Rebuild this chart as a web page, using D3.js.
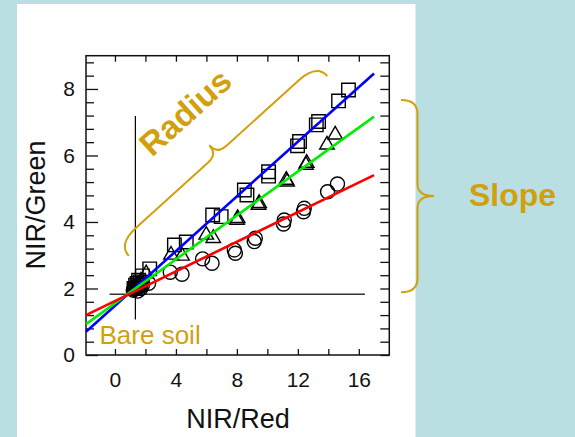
<!DOCTYPE html>
<html>
<head>
<meta charset="utf-8">
<script src="https://cdn.jsdelivr.net/npm/d3@7"></script>
<style>
  body { margin: 0; }
  svg { display: block; font-family: "Liberation Sans", Arial, Helvetica, sans-serif; }
</style>
</head>
<body>
<svg id="chart" width="575" height="437"></svg>
<script>
// NIR/Red (x) against NIR/Green (y) for three canopy groups
const squarePts = [
  [1.25, 2.0], [1.35, 2.1], [1.45, 2.15], [1.55, 2.25], [1.65, 2.2], [1.8, 2.38], [2.28, 2.59],
  [3.90, 3.31], [4.68, 3.40], [6.41, 4.21], [6.97, 4.16], [8.49, 4.96],
  [8.66, 4.81], [10.08, 5.51], [10.08, 5.38], [11.98, 6.29], [12.11, 6.42],
  [13.21, 6.92], [13.36, 7.02], [14.67, 7.64], [15.32, 7.97]
];
const trianglePts = [
  [1.3, 2.0], [1.4, 2.08], [1.5, 2.12], [1.6, 2.05], [1.7, 2.22], [2.05, 2.45],
  [3.68, 3.01], [4.40, 2.98], [5.99, 3.61], [6.45, 3.51], [8.01, 4.06],
  [8.05, 4.11], [9.42, 4.51], [9.46, 4.56], [11.29, 5.21], [11.24, 5.26],
  [12.53, 5.71], [12.58, 5.77], [13.91, 6.32], [14.45, 6.62]
];
const circlePts = [
  [1.2, 1.95], [1.3, 2.05], [1.4, 2.0], [1.5, 1.92], [1.6, 2.05], [1.7, 2.0], [1.8, 2.1], [2.21, 2.16],
  [3.63, 2.49], [4.40, 2.43], [5.75, 2.89], [6.37, 2.76], [7.83, 3.16],
  [7.90, 3.06], [9.21, 3.51], [9.14, 3.41], [11.11, 4.06], [11.06, 3.94],
  [12.42, 4.41], [12.37, 4.31], [13.95, 4.91], [14.60, 5.14]
];

// Fitted lines: squares, triangles, circles
const fitSlopes = [0.411, 0.330, 0.2228];
const fitIntercepts = [1.48, 1.557, 1.623];
const fitXRange = [-1.9, 17.0];

// Bare-soil crosshair
const soilPoint = [1.34, 1.825];
const soilVSpan = [1.07, 7.19];
const soilHSpan = [-0.35, 16.4];

// Axes
const xDomain = [-1.9, 18];
const yDomain = [0, 9];
const xTickValues = [0, 2, 4, 6, 8, 10, 12, 14, 16];
const xLabelValues = [0, 4, 8, 12, 16];
const yTickValues = d3.range(0, 23).map(i => +(i * 0.4).toFixed(1));
const yLabelValues = [0, 2, 4, 6, 8];

const xTitle = "NIR/Red";
const yTitle = "NIR/Green";

// Styling
const GOLD = "#D2A00C";
const BG = "#B9DFE2";
const fitColors = ["#0000FF", "#00EE00", "#FF0000"];

const svg = d3.select("#chart");
svg.append("rect").attr("width", 575).attr("height", 437).attr("fill", BG);
svg.append("rect").attr("x", 17).attr("y", 4).attr("width", 398.5).attr("height", 433).attr("fill", "#fff");

const plot = { left: 86, right: 389.3, top: 55.7, bottom: 355 };
const x = d3.scaleLinear().domain(xDomain).range([plot.left, plot.right]);
const y = d3.scaleLinear().domain(yDomain).range([plot.bottom, plot.top]);

const isMajor = v => Math.abs(v / 2 - Math.round(v / 2)) < 1e-6;

// Bottom axis: inward ticks every 2, labels every 4
const gx = svg.append("g").attr("transform", `translate(0,${plot.bottom})`)
  .call(d3.axisBottom(x).tickValues(xTickValues).tickSizeInner(-6).tickSizeOuter(0)
    .tickPadding(17).tickFormat(d => xLabelValues.includes(d) ? d : ""));
// Top axis: ticks only
const gxt = svg.append("g").attr("transform", `translate(0,${plot.top})`)
  .call(d3.axisTop(x).tickValues(xTickValues).tickSizeInner(-6).tickSizeOuter(0).tickFormat(""));
// Left axis: ticks every 0.4, longer at labelled values
const gy = svg.append("g").attr("transform", `translate(${plot.left},0)`)
  .call(d3.axisLeft(y).tickValues(yTickValues).tickSizeInner(-8).tickSizeOuter(0)
    .tickPadding(11).tickFormat(d => yLabelValues.includes(d) ? d : ""));
gy.selectAll(".tick line").attr("x2", d => isMajor(d) ? 12 : 8);
// Right axis: ticks only
const gyr = svg.append("g").attr("transform", `translate(${plot.right},0)`)
  .call(d3.axisRight(y).tickValues(yTickValues).tickSizeInner(-9).tickSizeOuter(0).tickFormat(""));

[gx, gxt, gy, gyr].forEach(g => {
  g.select(".domain").remove();
  g.selectAll(".tick line").attr("stroke", "#111").attr("stroke-width", 1.3);
  g.selectAll("text").attr("font-size", 21).attr("fill", "#111")
    .attr("font-family", "'Liberation Sans', Arial, sans-serif");
});

// Frame
svg.append("rect")
  .attr("x", plot.left).attr("y", plot.top)
  .attr("width", plot.right - plot.left).attr("height", plot.bottom - plot.top)
  .attr("fill", "none").attr("stroke", "#111").attr("stroke-width", 1.5);

// Axis titles
svg.append("text").attr("x", 238).attr("y", 428).attr("text-anchor", "middle")
  .attr("font-size", 27).attr("fill", "#111").text(xTitle);
svg.append("text").attr("transform", "translate(45,205) rotate(-90)")
  .attr("text-anchor", "middle").attr("font-size", 27).attr("fill", "#111").text(yTitle);

// Bare-soil crosshair
svg.append("line")
  .attr("x1", x(soilPoint[0])).attr("x2", x(soilPoint[0]))
  .attr("y1", y(soilVSpan[0])).attr("y2", y(soilVSpan[1]))
  .attr("stroke", "#000").attr("stroke-width", 1.2);
svg.append("line")
  .attr("x1", x(soilHSpan[0])).attr("x2", x(soilHSpan[1]))
  .attr("y1", y(soilPoint[1])).attr("y2", y(soilPoint[1]))
  .attr("stroke", "#333").attr("stroke-width", 1.4);

// Markers
const groups = [
  { pts: squarePts, type: d3.symbolSquare, size: 182 },
  { pts: trianglePts, type: d3.symbolTriangle, size: 92 },
  { pts: circlePts, type: d3.symbolCircle, size: 155 }
];
groups.forEach(g => {
  svg.append("g").selectAll("path").data(g.pts).join("path")
    .attr("transform", d => `translate(${x(d[0])},${y(d[1])})`)
    .attr("d", d3.symbol().type(g.type).size(g.size))
    .attr("fill", "none").attr("stroke", "#000").attr("stroke-width", 1.4);
});

// Fitted lines
const lineGen = d3.line().x(d => x(d[0])).y(d => y(d[1]));
fitSlopes.forEach((m, i) => {
  const pts = fitXRange.map(v => [v, fitIntercepts[i] + m * v]);
  svg.append("path").attr("d", lineGen(pts))
    .attr("fill", "none").attr("stroke", fitColors[i]).attr("stroke-width", 2.6);
});

// Curly brace from p1 to p2, bulging to the left of the travel direction
function bracePath(p1, p2, d1, d2, r, r2) {
  const dx = p2[0] - p1[0], dy = p2[1] - p1[1], L = Math.hypot(dx, dy);
  const u = [dx / L, dy / L], n = [u[1], -u[0]];
  const pt = (a, b) => `${p1[0] + u[0] * a + n[0] * b},${p1[1] + u[1] * a + n[1] * b}`;
  const h = L / 2;
  return `M${pt(0, 0)} Q${pt(0, d1)} ${pt(r, d1)} L${pt(h - r2, d1)} Q${pt(h, d1)} ${pt(h, d2)}` +
    ` Q${pt(h, d1)} ${pt(h + r2, d1)} L${pt(L - r, d1)} Q${pt(L, d1)} ${pt(L, 0)}`;
}

// Radius brace along the fitted lines
const radiusStart = [0.91, 2.98], radiusEnd = [13.93, 8.39];
svg.append("path")
  .attr("d", bracePath([x(radiusStart[0]), y(radiusStart[1])], [x(radiusEnd[0]), y(radiusEnd[1])], 16, 28, 25, 12))
  .attr("fill", "none").attr("stroke", GOLD).attr("stroke-width", 2);
svg.append("text").attr("transform", "translate(185,112) rotate(-42)")
  .attr("text-anchor", "middle").attr("dy", "0.36em")
  .attr("font-size", 33).attr("font-weight", "bold").attr("fill", GOLD).text("Radius");

// Slope brace at the right of the frame
const slopeTop = 7.67, slopeBottom = 1.89;
svg.append("path")
  .attr("d", bracePath([plot.right + 11.7, y(slopeTop)], [plot.right + 11.7, y(slopeBottom)], 16.5, 33, 14, 12))
  .attr("fill", "none").attr("stroke", GOLD).attr("stroke-width", 2);
svg.append("text").attr("x", 469).attr("y", 206)
  .attr("font-size", 32).attr("font-weight", "bold").attr("fill", GOLD).text("Slope");

svg.append("text").attr("x", 99.5).attr("y", 344)
  .attr("font-size", 26).attr("fill", GOLD).text("Bare soil");
</script>
</body>
</html>
